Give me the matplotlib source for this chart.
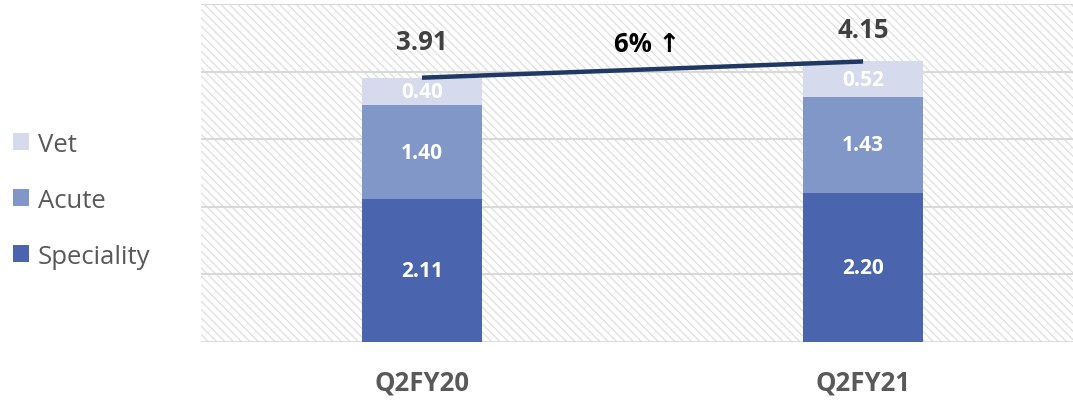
import matplotlib
matplotlib.use("Agg")
import matplotlib.pyplot as plt
from matplotlib.patches import Rectangle
import numpy as np

categories = ["Q2FY20", "Q2FY21"]
speciality = [2.11, 2.20]
acute = [1.40, 1.43]
vet = [0.40, 0.52]
totals = [3.91, 4.15]
growth_label = "6% \u2191"

c_spec = "#4a65ad"
c_acute = "#8097c8"
c_vet = "#d5dbed"

plt.rcParams['hatch.color'] = '#dedede'
plt.rcParams['hatch.linewidth'] = 0.9

fig = plt.figure(figsize=(10.73, 4.02), dpi=100)
ax = fig.add_axes([201/1073, 1-343/402, 872/1073, 338/402])
ax.set_xlim(-0.501, 1.476)
ax.set_ylim(0, 5)

bg = Rectangle((0, 0), 1, 1, transform=ax.transAxes, facecolor='white',
               edgecolor='#dedede', hatch='\\\\\\\\', linewidth=0, zorder=0)
ax.add_patch(bg)

for y in range(1, 6):
    ax.axhline(y, color='#d9d9d9', lw=1.5, zorder=1)
ax.axhline(0, color='#d9d9d9', lw=2, zorder=1)

x = np.arange(len(categories))
w = 0.272
b1 = ax.bar(x, speciality, w, color=c_spec, zorder=2, label="Speciality")
b2 = ax.bar(x, acute, w, bottom=speciality, color=c_acute, zorder=2, label="Acute")
bottom3 = [s + a for s, a in zip(speciality, acute)]
b3 = ax.bar(x, vet, w, bottom=bottom3, color=c_vet, zorder=2, label="Vet")

fam = ['Open Sans', 'DejaVu Sans']
for i in range(len(categories)):
    for val, base in ((speciality[i], 0), (acute[i], speciality[i]), (vet[i], bottom3[i])):
        ax.text(x[i], base + val / 2, f"{val:.2f}", ha='center', va='center',
                color='white', fontsize=15, fontweight='bold', family=fam, zorder=3)

ax.plot(x, totals, color='#203864', lw=3.2, zorder=4, solid_capstyle='butt')
ax.text(x[0], 4.44, f"{totals[0]:.2f}", ha='center', va='center', color='#404040',
        fontsize=18.5, fontweight='bold', family=fam)
ax.text(x[1], 4.63, f"{totals[1]:.2f}", ha='center', va='center', color='#404040',
        fontsize=18.5, fontweight='bold', family=fam)
ax.text(0.51, 4.42, growth_label, ha='center', va='center', color='black',
        fontsize=18.5, fontweight='bold', family=fam)

ax.set_xticks(x)
ax.set_xticklabels(categories, fontsize=18.5, fontweight='bold', color='#595959', family=fam)
ax.tick_params(axis='x', length=0, pad=19)
ax.set_yticks([])
for s in ax.spines.values():
    s.set_visible(False)

handles = [b3, b2, b1]
leg = fig.legend(handles, ["Vet", "Acute", "Speciality"], loc='upper left',
                 bbox_to_anchor=(0.0, 1 - 120/402), frameon=False,
                 prop={'family': fam, 'size': 18.5}, labelcolor='#595959',
                 handlelength=0.62, handleheight=0.62, handletextpad=0.35,
                 labelspacing=1.2, borderaxespad=0.1)

fig.savefig("out.png", dpi=100)
